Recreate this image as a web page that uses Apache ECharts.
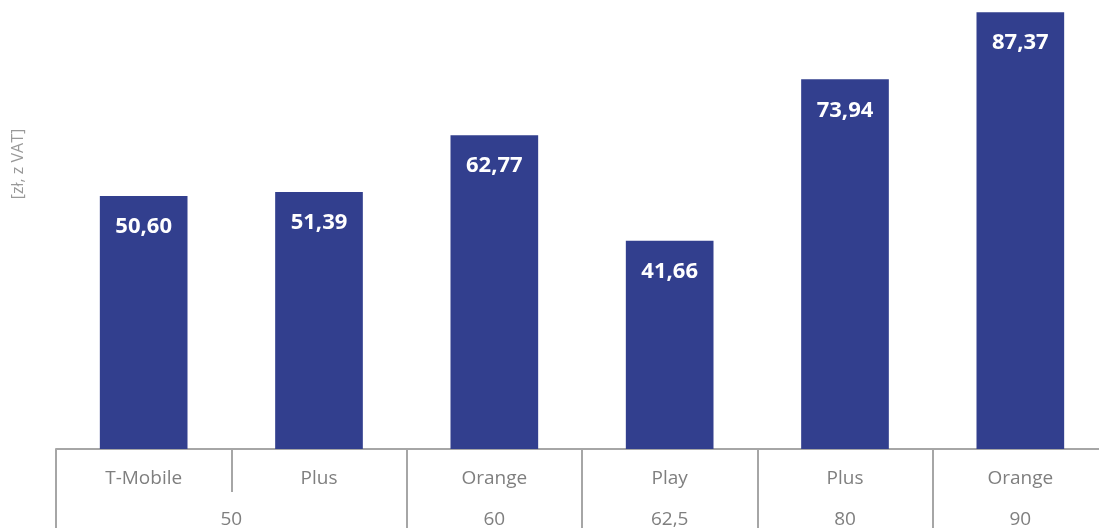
<!DOCTYPE html>
<html>
<head>
<meta charset="utf-8">
<script src="https://cdn.jsdelivr.net/npm/echarts@6/dist/echarts.min.js"></script>
<style>
    html, body { margin: 0; padding: 0; background: #fff; }
    #chart { width: 1099px; height: 528px; }
</style>
</head>
<body>
<div id="chart"></div>
<script>
// operatorzy (pierwszy poziom osi X)
const operators = ['T-Mobile', 'Plus', 'Orange', 'Play', 'Plus', 'Orange'];
// ceny [zł, z VAT]
const prices = [50.60, 51.39, 62.77, 41.66, 73.94, 87.37];
// grupy (drugi poziom osi X) - etykieta i pozycja środka w jednostkach kategorii
const groupLabels = ['50', '60', '62,5', '80', '90'];
const groupCenters = [1, 2.5, 3.5, 4.5, 5.5];
const groupBounds = [0, 2, 3, 4, 5, 6];

const axisGrey = '#a6a6a6';
const textGrey = '#7f7f7f';
const barColor = '#323f8e';
const font = '"Open Sans", sans-serif';

const chart = echarts.init(document.getElementById('chart'));

const option = {
    animation: false,
    grid: { left: 56, width: 1052, top: 9, bottom: 79, outerBoundsMode: 'none' },
    xAxis: [
        {
            type: 'category',
            data: operators,
            axisLine: { lineStyle: { color: axisGrey, width: 2 } },
            axisTick: { show: true, length: 43, lineStyle: { color: axisGrey, width: 2 } },
            axisLabel: { interval: 0, margin: 20, color: textGrey, fontSize: 19, fontFamily: font }
        },
        {
            type: 'value',
            position: 'bottom',
            min: 0,
            max: 6,
            axisLine: { show: false },
            splitLine: { show: false },
            axisTick: {
                show: true,
                length: 80,
                customValues: groupBounds,
                lineStyle: { color: axisGrey, width: 2 }
            },
            axisLabel: {
                margin: 61,
                customValues: groupCenters,
                color: textGrey,
                fontSize: 19,
                fontFamily: font,
                formatter: function (v) {
                    return groupLabels[groupCenters.indexOf(v)];
                }
            }
        }
    ],
    yAxis: {
        type: 'value',
        min: 0,
        max: 88,
        show: false
    },
    graphic: [{
        type: 'text',
        x: 18,
        y: 164,
        rotation: Math.PI / 2,
        style: {
            text: '[zł, z VAT]',
            fill: '#999999',
            font: '16px ' + font,
            align: 'center',
            verticalAlign: 'middle'
        }
    }],
    series: [{
        type: 'bar',
        xAxisIndex: 0,
        data: prices,
        barWidth: '50%',
        itemStyle: { color: barColor },
        label: {
            show: true,
            position: 'insideTop',
            distance: 20,
            color: '#ffffff',
            fontWeight: 'bold',
            fontSize: 22,
            fontFamily: font,
            formatter: function (p) {
                return p.value.toFixed(2).replace('.', ',');
            }
        }
    }]
};

chart.setOption(option);
</script>
</body>
</html>
